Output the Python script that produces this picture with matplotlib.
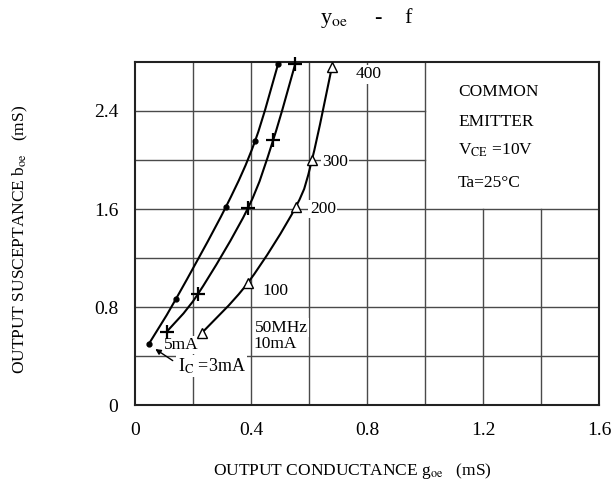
import matplotlib
matplotlib.use("Agg")
import matplotlib.pyplot as plt
import numpy as np
from matplotlib.path import Path
from matplotlib.patches import PathPatch

plt.rcParams['font.family'] = ['Liberation Serif', 'DejaVu Serif']
plt.rcParams['mathtext.fontset'] = 'stix'

# frequency points 50, 100, 200, 300, 400 MHz
freq = [50, 100, 200, 300, 400]
g_3mA = [0.048, 0.141, 0.314, 0.414, 0.493]
b_3mA = [0.50, 0.865, 1.62, 2.155, 2.78]
g_5mA = [0.110, 0.217, 0.39, 0.476, 0.552]
b_5mA = [0.60, 0.906, 1.61, 2.16, 2.78]
g_10mA = [0.231, 0.39, 0.555, 0.61, 0.679]
b_10mA = [0.59, 1.00, 1.62, 2.00, 2.76]


def smooth_path(xs, ys):
    # cubic bezier through the points (catmull-rom tangents)
    p = np.column_stack([xs, ys])
    verts = [p[0]]
    codes = [Path.MOVETO]
    n = len(p)
    for i in range(n - 1):
        p0 = p[i - 1] if i > 0 else p[i]
        p3 = p[i + 2] if i + 2 < n else p[i + 1]
        c1 = p[i] + (p[i + 1] - p0) / 6.0
        c2 = p[i + 1] - (p3 - p[i]) / 6.0
        verts += [c1, c2, p[i + 1]]
        codes += [Path.CURVE4] * 3
    return Path(verts, codes)


fig = plt.figure(figsize=(6.12, 4.88), dpi=100)
ax = fig.add_axes([0.2206, 0.170, 0.7582, 0.703])
ax.set_xlim(0, 1.6)
ax.set_ylim(0, 2.8)

gc = '#4a4a4a'
gw = 1.0
# grid, leaving the box upper right empty
for xv in [0.2, 0.4, 0.6, 0.8, 1.0]:
    ax.plot([xv, xv], [0, 2.8], color=gc, lw=gw, zorder=1)
for xv in [1.2, 1.4]:
    ax.plot([xv, xv], [0, 1.6], color=gc, lw=gw, zorder=1)
for yv in [0.4, 0.8, 1.2, 1.6]:
    ax.plot([0, 1.6], [yv, yv], color=gc, lw=gw, zorder=1)
for yv in [2.0, 2.4]:
    ax.plot([0, 1.0], [yv, yv], color=gc, lw=gw, zorder=1)

for gx, by in [(g_3mA, b_3mA), (g_5mA, b_5mA), (g_10mA, b_10mA)]:
    ax.add_patch(PathPatch(smooth_path(gx, by), fc='none', ec='black', lw=1.5, zorder=3))

ax.plot(g_3mA, b_3mA, 'o', color='black', ms=3.5, zorder=4, clip_on=False)
ax.plot(g_5mA, b_5mA, '+', color='black', ms=10, mew=1.6, zorder=4, clip_on=False)
ax.plot(g_10mA, b_10mA, '^', mfc='white', mec='black', ms=7, mew=1.0, zorder=4, clip_on=False)

bb = dict(facecolor='white', edgecolor='none', pad=1.0)
fs = 12.5
ax.text(0.762, 2.70, "400", fontsize=fs, va='center', ha='left', bbox=bb, zorder=2)
ax.text(0.645, 1.98, "300", fontsize=fs, va='center', ha='left', bbox=bb, zorder=2)
ax.text(0.603, 1.60, "200", fontsize=fs, va='center', ha='left', bbox=bb, zorder=2)
ax.text(0.438, 0.93, "100", fontsize=fs, va='center', ha='left', bbox=bb, zorder=2)
ax.text(0.414, 0.63, "50MHz", fontsize=fs, va='center', ha='left', bbox=bb, zorder=2)
ax.text(0.41, 0.50, "10mA", fontsize=fs, va='center', ha='left', bbox=bb, zorder=2)
ax.text(0.10, 0.49, "5mA", fontsize=fs, va='center', ha='left', bbox=bb, zorder=2)
ax.text(0.148, 0.32, r"I$_\mathrm{C}$ =3mA", fontsize=13, va='center', ha='left', bbox=bb, zorder=2)
ax.annotate("", xy=(0.062, 0.47), xytext=(0.138, 0.35),
            arrowprops=dict(arrowstyle='-|>', color='black', lw=1.0, mutation_scale=8), zorder=5)

ax.text(1.114, 2.555, "COMMON", fontsize=fs, va='center', ha='left')
ax.text(1.114, 2.31, "EMITTER", fontsize=fs, va='center', ha='left')
ax.text(1.114, 2.08, r"V$_\mathrm{CE}$ =10V", fontsize=fs, va='center', ha='left')
ax.text(1.114, 1.81, "Ta=25\u00b0C", fontsize=fs, va='center', ha='left')

ax.set_xticks([0, 0.4, 0.8, 1.2, 1.6])
ax.set_xticklabels(["0", "0.4", "0.8", "1.2", "1.6"])
ax.set_yticks([0, 0.8, 1.6, 2.4])
ax.set_yticklabels(["0", "0.8", "1.6", "2.4"])
ax.tick_params(axis='both', length=0, labelsize=14, pad=12)
for s in ax.spines.values():
    s.set_linewidth(1.5)
    s.set_color('#222222')

fig.text(0.575, 0.035, r"OUTPUT CONDUCTANCE g$_\mathrm{oe}$   (mS)", fontsize=12.5, ha='center', va='center')
fig.text(0.033, 0.51, r"OUTPUT SUSCEPTANCE b$_\mathrm{oe}$   (mS)", fontsize=12.5, ha='center', va='center', rotation=90)
fig.text(0.60, 0.963, r"y$_\mathrm{oe}$     -    f", fontsize=16, ha='center', va='center')

fig.savefig("out.png", dpi=100)
